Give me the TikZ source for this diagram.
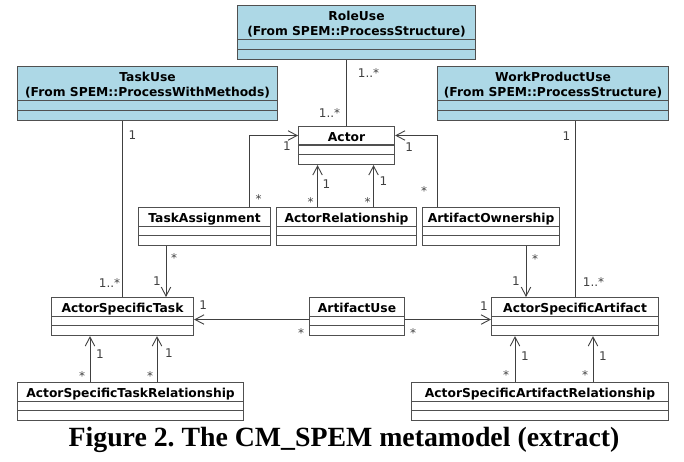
\documentclass[tikz,border=0pt]{standalone}
\usepackage{fontspec}
\setmainfont{DejaVu Sans}
\newfontfamily\capfont{Liberation Serif}
\usetikzlibrary{arrows.meta}
\definecolor{umlblue}{RGB}{173,216,230}
\definecolor{boxgray}{RGB}{80,80,80}
\definecolor{linegray}{RGB}{64,64,64}
\newcommand{\classfont}{\fontsize{12.3}{15.3}\selectfont\bfseries}
\newcommand{\multfont}{\fontsize{12}{14}\selectfont}
\tikzset{
  whitebox/.style={draw=boxgray, line width=1.1pt, fill=white, anchor=north west, inner sep=0pt,
    minimum height=38pt, text height=14.5pt, text depth=23.5pt, font=\classfont,
    path picture={\draw[boxgray, line width=1.1pt]
      ([yshift=-18.5pt]path picture bounding box.north west) -- ([yshift=-18.5pt]path picture bounding box.north east)
      ([yshift=-28pt]path picture bounding box.north west) -- ([yshift=-28pt]path picture bounding box.north east);}},
  bluebox/.style={draw=boxgray, line width=1.1pt, fill=umlblue, anchor=north west, inner sep=0pt,
    minimum height=54pt, text height=30pt, text depth=24pt, align=center, font=\classfont,
    path picture={\draw[boxgray, line width=1.1pt]
      ([yshift=-34pt]path picture bounding box.north west) -- ([yshift=-34pt]path picture bounding box.north east)
      ([yshift=-44pt]path picture bounding box.north west) -- ([yshift=-44pt]path picture bounding box.north east);}},
  assoc/.style={draw=linegray, line width=0.9pt},
  navi/.style={assoc, -{Straight Barb[length=9pt,width=9.5pt]}},
  mult/.style={font=\multfont, text=linegray, inner sep=0pt, text height=8.7pt, text depth=0pt},
  star/.style={mult, yshift=-2.8pt},
}
\begin{document}
\begin{tikzpicture}[x=1pt,y=1pt,yscale=-1,xscale=1]
\useasboundingbox (0,0) rectangle (684,462);

%Shape: Class [RoleUse, TaskUse, WorkProductUse]
\node[bluebox, minimum width=238pt] (ru) at (237,5) {RoleUse\\(From SPEM::ProcessStructure)};
\node[bluebox, minimum width=260pt] (tu) at (17,66) {TaskUse\\(From SPEM::ProcessWithMethods)};
\node[bluebox, minimum width=231pt] (wpu) at (437,66) {WorkProductUse\\(From SPEM::ProcessStructure)};
%Shape: Class [Actor]
\node[whitebox, minimum width=96pt] (act) at (298,126) {Actor};
%Shape: Class [second row]
\node[whitebox, minimum width=132pt] (ta) at (138,207) {TaskAssignment};
\node[whitebox, minimum width=140pt] (ar) at (276,207) {ActorRelationship};
\node[whitebox, minimum width=137pt] (ao) at (422,207) {ArtifactOwnership};
%Shape: Class [third row]
\node[whitebox, minimum width=142pt] (ast) at (51,297) {ActorSpecificTask};
\node[whitebox, minimum width=95pt] (au) at (309,297) {ArtifactUse};
\node[whitebox, minimum width=167pt] (asa) at (491,297) {ActorSpecificArtifact};
%Shape: Class [bottom row]
\node[whitebox, minimum width=226pt] (astr) at (17,382) {ActorSpecificTaskRelationship};
\node[whitebox, minimum width=257pt] (asar) at (411,382) {ActorSpecificArtifactRelationship};

%Straight Lines [plain associations]
\draw[assoc] (ru.south -| act.north) -- (act.north)
  node[mult, at start, xshift=22pt, yshift=-13pt] {1..*}
  node[mult, at end, xshift=-17pt, yshift=13pt] {1..*};
\draw[assoc] (tu.south -| ast.north) -- (ast.north)
  node[mult, at start, xshift=10pt, yshift=-14pt] {1}
  node[mult, at end, xshift=-13pt, yshift=14pt] {1..*};
\draw[assoc] (wpu.south -| asa.north) -- (asa.north)
  node[mult, at start, xshift=-8.5pt, yshift=-15pt] {1}
  node[mult, at end, xshift=18.5pt, yshift=15pt] {1..*};

%Straight Lines [to Actor]
\draw[navi] ([xshift=45pt]ta.north) |- ([yshift=9.5pt]act.north west)
  node[star, at start, xshift=9pt, yshift=11pt] {*}
  node[mult, at end, xshift=-11pt, yshift=-10.5pt] {1};
\draw[navi] ([xshift=-29pt]ar.north) -- ([xshift=-29pt]act.south -| ar.north)
  node[star, at start, xshift=-7pt, yshift=8pt] {*}
  node[mult, at end, xshift=9pt, yshift=-19pt] {1};
\draw[navi] ([xshift=27pt]ar.north) -- ([xshift=27pt]act.south -| ar.north)
  node[star, at start, xshift=-6pt, yshift=8pt] {*}
  node[mult, at end, xshift=10pt, yshift=-16pt] {1};
\draw[navi] ([xshift=15pt]ao.north west) |- ([yshift=9.5pt]act.north east)
  node[star, at start, xshift=-13pt, yshift=19pt] {*}
  node[mult, at end, xshift=14pt, yshift=-11.5pt] {1};

%Straight Lines [to ActorSpecificTask / ActorSpecificArtifact]
\draw[navi] ([xshift=28pt]ta.south west) -- ([xshift=28pt]ast.north -| ta.south west)
  node[star, at start, xshift=8pt, yshift=-9pt] {*}
  node[mult, at end, xshift=-9pt, yshift=16pt] {1};
\draw[navi] ([yshift=3pt]au.west) -- ([yshift=3pt]au.west -| ast.east)
  node[star, at start, xshift=-8pt, yshift=-11pt] {*}
  node[mult, at end, xshift=9pt, yshift=14pt] {1};
\draw[navi] ([yshift=3pt]au.east) -- ([yshift=3pt]au.east -| asa.west)
  node[star, at start, xshift=8pt, yshift=-11pt] {*}
  node[mult, at end, xshift=-7pt, yshift=13pt] {1};
\draw[navi] ([xshift=104pt]ao.south west) -- ([xshift=104pt]asa.north -| ao.south west)
  node[star, at start, xshift=9pt, yshift=-10pt] {*}
  node[mult, at end, xshift=-10pt, yshift=16pt] {1};

%Straight Lines [relationships]
\draw[navi] ([xshift=73pt]astr.north west) -- ([xshift=73pt]ast.south -| astr.north west)
  node[star, at start, xshift=-8pt, yshift=9pt] {*}
  node[mult, at end, xshift=10pt, yshift=-18pt] {1};
\draw[navi] ([xshift=140pt]astr.north west) -- ([xshift=140pt]ast.south -| astr.north west)
  node[star, at start, xshift=-7pt, yshift=9pt] {*}
  node[mult, at end, xshift=12pt, yshift=-17pt] {1};
\draw[navi] ([xshift=104pt]asar.north west) -- ([xshift=104pt]asa.south -| asar.north west)
  node[star, at start, xshift=-9pt, yshift=10pt] {*}
  node[mult, at end, xshift=10pt, yshift=-20pt] {1};
\draw[navi] ([xshift=182pt]asar.north west) -- ([xshift=182pt]asa.south -| asar.north west)
  node[star, at start, xshift=-8pt, yshift=10pt] {*}
  node[mult, at end, xshift=10pt, yshift=-20pt] {1};

% Text Node
\node[anchor=base, inner sep=0pt] (caption) at (344,446.5)
  {\capfont\bfseries\frenchspacing\fontsize{27.8}{30}\selectfont Figure 2. The CM\_SPEM metamodel (extract)};
\end{tikzpicture}
\end{document}
